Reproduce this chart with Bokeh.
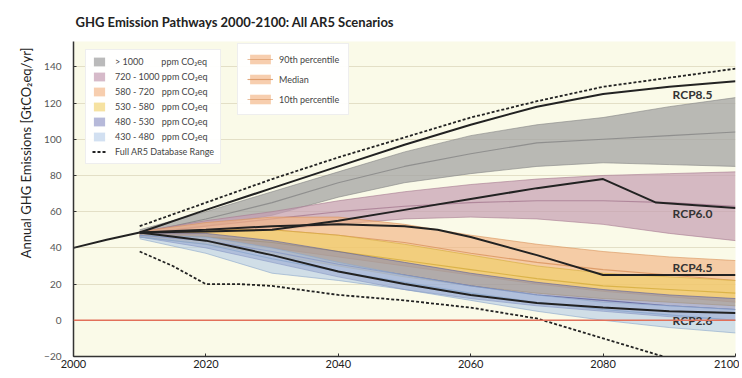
from bokeh.plotting import figure
from bokeh.models import Legend, LegendItem, Span, FixedTicker, Title
from bokeh.core.properties import value
from bokeh.embed import file_html
from bokeh.resources import INLINE

# ---------------- data ----------------
years = [2010, 2020, 2030, 2040, 2050, 2060, 2070, 2080, 2090, 2100]

hist_years = [2000, 2005, 2010]
hist_vals = [40, 44.5, 48.5]

# concentration category bands: 10th percentile, median, 90th percentile
gt1000_lo = [47, 52, 58, 68, 76, 81, 85, 87, 86, 85]
gt1000_md = [48, 56, 65, 76, 85, 92, 98, 100, 102, 104]
gt1000_hi = [50, 60, 71, 82, 93, 102, 108, 112, 118, 123]

c720_lo = [46, 48, 50, 53, 56, 57, 56, 53, 48, 44]
c720_md = [48, 52, 56, 60, 63, 65, 66, 66, 65, 63]
c720_hi = [49, 55, 60, 66, 71, 75, 78, 80, 81, 82]

c580_lo = [46, 44, 40, 35, 30, 25, 20, 16, 13, 10]
c580_md = [48, 50, 50, 47, 43, 37, 32, 28, 25, 22]
c580_hi = [49, 54, 57, 57, 53, 47, 42, 38, 35, 33]

c530_lo = [46, 42, 36, 30, 24, 19, 15, 12, 10, 8]
c530_md = [47, 46, 43, 38, 33, 28, 23, 19, 17, 15]
c530_hi = [48, 50, 50, 47, 42, 36, 30, 26, 24, 22]

c480_lo = [46, 40, 32, 24, 17, 12, 8, 5, 2, 0]
c480_md = [47, 44, 38, 31, 25, 19, 14, 11, 8, 6]
c480_hi = [48, 48, 44, 38, 32, 26, 21, 17, 14, 12]

c430_lo = [45, 37, 26, 22, 17, 11, 5, 0, -4, -7]
c430_md = [46, 42, 34, 27, 21, 15, 10, 6, 3, 0]
c430_hi = [47, 46, 40, 32, 25, 19, 14, 10, 8, 6]

# RCP pathways
rcp85_years = years
rcp85_vals = [48.5, 61, 73, 85, 97, 108, 118, 125, 129, 132]
rcp60_years = [2010, 2020, 2030, 2040, 2050, 2060, 2070, 2080, 2088, 2100]
rcp60_vals = [48.5, 49, 50, 55, 61, 67, 73, 78, 65, 62]
rcp45_years = [2010, 2020, 2030, 2040, 2050, 2055, 2060, 2070, 2080, 2100]
rcp45_vals = [48.5, 50, 52, 53, 52, 50, 46, 36, 25, 25]
rcp26_years = years
rcp26_vals = [48.5, 44, 36, 27, 20, 14, 9.5, 7, 5, 4]

# full AR5 database range
full_hi_years = years
full_hi_vals = [52, 65, 78, 90, 101, 112, 121, 129, 134, 139]
full_lo_years = [2010, 2015, 2020, 2025, 2030, 2040, 2050, 2060, 2070, 2080, 2090, 2100]
full_lo_vals = [38, 30, 20, 20, 19, 14, 11, 7, 1, -10, -21, -33]

rcp_label_text = ["RCP8.5", "RCP6.0", "RCP4.5", "RCP2.6"]
rcp_label_x = [2093.5, 2093.5, 2093.5, 2093.5]
rcp_label_y = [125, 59, 29, 0]

x_ticks = [2000, 2020, 2040, 2060, 2080, 2100]
y_ticks = [-20, 0, 20, 40, 60, 80, 100, 120, 140]

FS = "\u2007"  # figure space, keeps the "ppm" column aligned
band_labels = ["> 1000" + FS * 3 + " ppm CO\u2082eq",
               "720 - 1000 ppm CO\u2082eq",
               "580 - 720" + FS + " ppm CO\u2082eq",
               "530 - 580" + FS + " ppm CO\u2082eq",
               "480 - 530" + FS + " ppm CO\u2082eq",
               "430 - 480" + FS + " ppm CO\u2082eq"]

# ---------------- figure ----------------
FONT = "Lato"
p = figure(width=739, height=372, x_range=(2000, 2100), y_range=(-20, 154),
           output_backend="svg", toolbar_location=None,
           min_border_left=73, min_border_right=4, min_border_top=41, min_border_bottom=16)
p.title.text = "GHG Emission Pathways 2000-2100: All AR5 Scenarios"
p.title.text_font = FONT
p.title.text_font_size = "13px"
p.title.text_font_style = "bold"
p.title.text_color = "#222222"
p.title.standoff = 23
p.title.offset = 2

p.background_fill_color = "#fafae8"
p.border_fill_color = "white"
p.outline_line_color = None
p.xgrid.grid_line_color = None
p.ygrid.grid_line_color = "#e3dfc6"
p.ygrid.ticker = FixedTicker(ticks=y_ticks)

p.xaxis.ticker = FixedTicker(ticks=x_ticks)
p.yaxis.ticker = FixedTicker(ticks=y_ticks)
for ax in (p.xaxis[0], p.yaxis[0]):
    ax.axis_line_color = "#333333"
    ax.axis_line_width = 1.5
    ax.major_tick_line_color = "#333333"
    ax.minor_tick_line_color = None
    ax.major_tick_in = 3
    ax.major_tick_out = 0
    ax.major_label_text_font = FONT
p.xaxis.major_label_text_font_size = "11px"
p.xaxis.major_label_text_color = "#222222"
p.xaxis.major_label_standoff = 3
p.yaxis.major_label_text_font_size = "10px"
p.yaxis.major_label_text_color = "#555555"
p.yaxis.major_label_standoff = 12

# y-axis title, placed like the original (near the top of the axis)
ytitle = Title(text="Annual GHG Emissions [GtCO\u2082eq/yr]", align="right", offset=6,
               text_font=FONT, text_font_size="13px", text_font_style="normal",
               text_color="#222222", standoff=16)
p.add_layout(ytitle, "left")

p.add_layout(Span(location=0, dimension="width", line_color="#e2705a", line_width=1.6))

bands = [
    (gt1000_lo, gt1000_md, gt1000_hi, "#a3a3a3", "#858585", 0.75),
    (c720_lo, c720_md, c720_hi, "#c49cb2", "#a67b91", 0.7),
    (c580_lo, c580_md, c580_hi, "#f2b482", "#d9925c", 0.65),
    (c530_lo, c530_md, c530_hi, "#f0cf62", "#d4ac3c", 0.6),
    (c480_lo, c480_md, c480_hi, "#7a7fba", "#5b5f9c", 0.55),
    (c430_lo, c430_md, c430_hi, "#adc6e6", "#8aa6cc", 0.55),
]
band_renderers = []
orange_lines = []
for i, (lo, md, hi, col, dcol, a) in enumerate(bands):
    r = p.varea(x=years, y1=lo, y2=hi, fill_color=col, fill_alpha=a)
    band_renderers.append(r)
    l_hi = p.line(years, hi, line_color=dcol, line_alpha=0.6, line_width=1)
    l_md = p.line(years, md, line_color=dcol, line_alpha=0.8, line_width=1.1)
    l_lo = p.line(years, lo, line_color=dcol, line_alpha=0.6, line_width=1)
    if i == 2:
        orange_lines = [l_hi, l_md, l_lo]

# full database range
d_hi = p.line(full_hi_years, full_hi_vals, line_color="#222222", line_width=1.8, line_dash="3 2")
p.line(full_lo_years, full_lo_vals, line_color="#222222", line_width=1.8, line_dash="3 2")

# history and RCPs
p.line(hist_years, hist_vals, line_color="#222222", line_width=2)
for xs, ys in [(rcp85_years, rcp85_vals), (rcp60_years, rcp60_vals),
               (rcp45_years, rcp45_vals), (rcp26_years, rcp26_vals)]:
    p.line(xs, ys, line_color="#222222", line_width=2)

p.text(x=rcp_label_x, y=rcp_label_y, text=rcp_label_text, text_font=value(FONT),
       text_font_size="12px", text_font_style="bold", text_color="#333333",
       text_align="center", text_baseline="middle")

# legends
items1 = [LegendItem(label=lab, renderers=[r]) for lab, r in zip(band_labels, band_renderers)]
items1.append(LegendItem(label="Full AR5 Database Range", renderers=[d_hi]))
leg1 = Legend(items=items1, location=(12, 192), orientation="vertical",
              label_text_font=FONT, label_text_font_size="9px", label_text_color="#444444",
              glyph_width=14, glyph_height=11, label_height=11, spacing=4, padding=6,
              label_standoff=9, margin=0,
              border_line_color="#dddddd", background_fill_color="white", background_fill_alpha=0.95)
p.add_layout(leg1, "center")

orange_band = band_renderers[2]
items2 = [LegendItem(label="90th percentile", renderers=[orange_band, orange_lines[0]]),
          LegendItem(label="Median", renderers=[orange_band, orange_lines[1]]),
          LegendItem(label="10th percentile", renderers=[orange_band, orange_lines[2]])]
leg2 = Legend(items=items2, location=(164, 241), orientation="vertical",
              label_text_font=FONT, label_text_font_size="9px", label_text_color="#444444",
              glyph_width=26, glyph_height=12, label_height=12, spacing=8, padding=9,
              label_standoff=6, margin=0,
              border_line_color="#dddddd", background_fill_color="white", background_fill_alpha=0.95)
p.add_layout(leg2, "center")

open("out.html", "w").write(file_html(p, INLINE))
